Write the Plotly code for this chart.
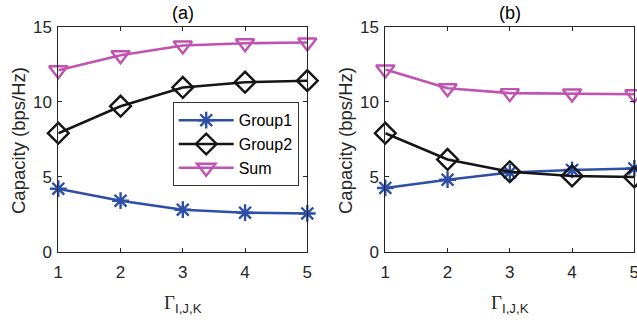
import plotly.graph_objects as go
from plotly.subplots import make_subplots

x_vals = [1, 2, 3, 4, 5]
group1_a = [4.2, 3.4, 2.8, 2.6, 2.55]
group2_a = [7.9, 9.7, 10.95, 11.3, 11.4]
sum_a = [12.1, 13.1, 13.75, 13.9, 13.95]
group1_b = [4.25, 4.8, 5.28, 5.45, 5.55]
group2_b = [7.9, 6.15, 5.33, 5.05, 4.98]
sum_b = [12.15, 10.9, 10.57, 10.55, 10.5]
y_ticks = [0, 5, 10, 15]
panel_titles = ["(a)", "(b)"]
series_names = ["Group1", "Group2", "Sum"]

blue = "#2E4FA8"
black = "#151515"
magenta = "#C052B2"
axis_col = "#262626"
sans = "Liberation Sans, Arial"

fig = make_subplots(rows=1, cols=2)

styles = [
    (blue, "asterisk-open", 14),
    (black, "diamond-open", 16),
    (magenta, "triangle-down-open", 16),
]
data = [[group1_a, group2_a, sum_a], [group1_b, group2_b, sum_b]]

for c in range(2):
    for i, ys in enumerate(data[c]):
        col, sym, sz = styles[i]
        fig.add_trace(go.Scatter(
            x=x_vals, y=ys, mode="lines+markers", name=series_names[i],
            line=dict(color=col, width=2.6),
            marker=dict(symbol=sym, size=sz, color=col, line=dict(color=col, width=2.4)),
            showlegend=(c == 0), cliponaxis=False,
        ), row=1, col=c + 1)

W, H = 637, 320
domains_x = [(58.3 / W, 307.3 / W), (385.3 / W, 634.3 / W)]
dom_y = (1 - 251.7 / H, 1 - 26.7 / H)

axis_common = dict(
    showgrid=False, zeroline=False, showline=True, mirror="ticks",
    linecolor=axis_col, linewidth=1, ticks="inside", ticklen=4,
    tickcolor=axis_col, automargin=False, ticklabeloverflow="allow",
    tickfont=dict(family=sans, size=17, color=axis_col),
)
for c in range(2):
    xa = "xaxis" if c == 0 else "xaxis2"
    ya = "yaxis" if c == 0 else "yaxis2"
    fig.layout[xa].update(domain=domains_x[c], range=[1, 5], tickvals=x_vals,
                          ticklabelstandoff=5, **axis_common)
    fig.layout[ya].update(domain=dom_y, range=[0, 15], tickvals=y_ticks,
                          ticklabelstandoff=2, **axis_common)

annotations = []
centers = [(58.3 + 307.3) / 2 / W, (385.3 + 634.3) / 2 / W]
ylab_x = [18 / W, 345 / W]
for c in range(2):
    annotations.append(dict(
        text=panel_titles[c], x=centers[c], y=1 - 13 / H, xref="paper", yref="paper",
        showarrow=False, font=dict(family=sans, size=18, color="#000"),
        xanchor="center", yanchor="middle"))
    annotations.append(dict(
        text='<span style="font-family:Liberation Serif, Times New Roman">Γ</span><sub>I,J,K</sub>',
        x=centers[c], y=1 - 304 / H, xref="paper", yref="paper",
        showarrow=False, font=dict(family=sans, size=19, color=axis_col),
        xanchor="center", yanchor="middle"))
    annotations.append(dict(
        text="Capacity (bps/Hz)", x=ylab_x[c], y=1 - 141 / H, xref="paper", yref="paper",
        showarrow=False, textangle=-90, font=dict(family=sans, size=18.5, color=axis_col),
        xanchor="center", yanchor="middle"))

fig.update_layout(
    width=W, height=H, margin=dict(l=0, r=0, t=0, b=0, autoexpand=False),
    paper_bgcolor="white", plot_bgcolor="white",
    annotations=annotations,
    legend=dict(
        x=172.7 / W, y=1 - 102.3 / H, xanchor="left", yanchor="top",
        bordercolor="#333", borderwidth=1, bgcolor="white",
        font=dict(family=sans, size=16, color="#000"),
        tracegroupgap=0, itemwidth=55,
    ),
)

fig.write_html("out.html")
